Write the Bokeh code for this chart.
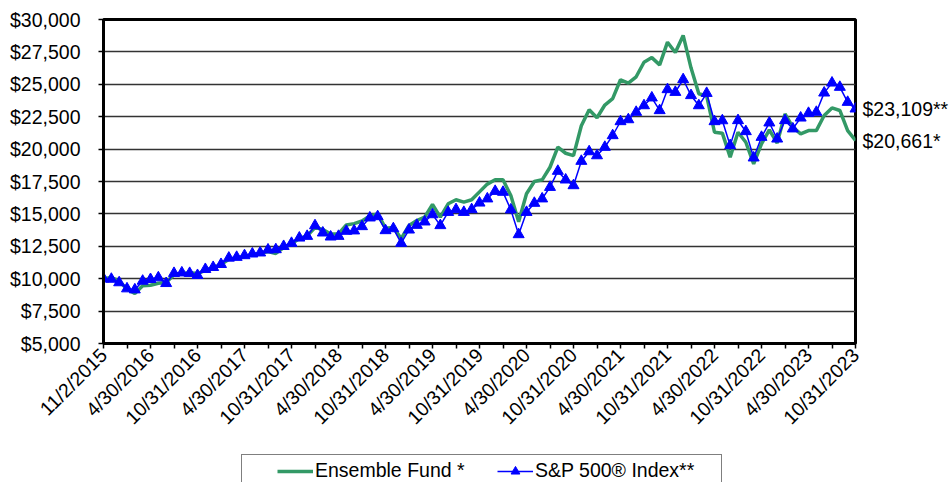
from math import pi
from bokeh.plotting import figure
from bokeh.layouts import column
from bokeh.models import (Range1d, FixedTicker, NumeralTickFormatter, Legend,
                          LegendItem, LinearAxis)
from bokeh.embed import file_html
from bokeh.resources import INLINE

# ---- data (monthly, index 0 = 11/2/2015 ... 96 = 10/31/2023) ----
tick_positions = list(range(0, 97, 6))
tick_labels = ["11/2/2015", "4/30/2016", "10/31/2016", "4/30/2017", "10/31/2017",
               "4/30/2018", "10/31/2018", "4/30/2019", "10/31/2019", "4/30/2020",
               "10/31/2020", "4/30/2021", "10/31/2021", "4/30/2022", "10/31/2022",
               "4/30/2023", "10/31/2023"]

ensemble_fund = [10000, 10100, 9800, 9200, 8850, 9450, 9500, 9650, 9700, 10300,
                 10400, 10450, 10400, 10650, 10850, 11100, 11500, 11600, 11700, 11850,
                 11950, 12100, 11950, 12400, 12700, 13100, 13300, 13950, 13800, 13450,
                 13450, 14150, 14250, 14450, 14850, 15000, 13900, 13950, 13100, 14110,
                 14490, 14750, 15730, 14750, 15780, 16090, 15910, 16090, 16700, 17300,
                 17630, 17630, 16420, 14400, 16550, 17500, 17630, 18600, 20150, 19680,
                 19500, 21800, 23030, 22420, 23400, 23900, 25350, 25090, 25580, 26700,
                 27060, 26500, 28250, 27450, 28770, 26270, 24270, 24100, 21300, 21230,
                 19380, 21300, 20530, 18860, 20400, 21490, 20460, 22720, 21690, 21180,
                 21430, 21430, 22590, 23180, 22980, 21430, 20661]

sp500_index = [10000, 9970, 9700, 9230, 9150, 9820, 9950, 10080, 9640, 10420,
               10460, 10420, 10260, 10725, 10880, 11110, 11600, 11660, 11790, 11920,
               12000, 12230, 12250, 12500, 12740, 13150, 13280, 14100, 13540, 13230,
               13280, 13670, 13700, 14030, 14700, 14800, 13720, 13870, 12740, 13770,
               14130, 14390, 14950, 14110, 15130, 15340, 15130, 15340, 15850, 16170,
               16750, 16680, 15320, 13410, 15130, 15830, 16170, 17060, 18300, 17630,
               17190, 19070, 19810, 19500, 20150, 21050, 22130, 22280, 22850, 23360,
               23960, 22980, 24600, 24390, 25370, 24140, 23360, 24310, 22130, 22200,
               20280, 22210, 21360, 19330, 20920, 22030, 20790, 22210, 21570, 22410,
               22770, 22850, 24340, 25110, 24780, 23620, 23109]

months = list(range(len(sp500_index)))

end_labels = ["$23,109**", "$20,661*"]
series_names = ["Ensemble Fund *", "S&P 500® Index**"]

FONT = "Liberation Sans"
FS = "19.5px"
GREEN = "#339966"
BLUE = "#0000FF"

p = figure(frame_width=752, frame_height=324,
           x_range=Range1d(0, 96), y_range=Range1d(5000, 30000),
           output_backend="svg", toolbar_location=None,
           min_border_left=103, min_border_right=97,
           min_border_top=19, min_border_bottom=97)

p.background_fill_color = "white"
p.border_fill_color = "white"
p.outline_line_color = "black"
p.outline_line_width = 3

# grid
p.xgrid.grid_line_color = None
p.ygrid.grid_line_color = "#333333"
p.ygrid.grid_line_width = 1.3

# y axis
p.yaxis.ticker = FixedTicker(ticks=list(range(5000, 30001, 2500)))
p.yaxis.formatter = NumeralTickFormatter(format="$0,0")
p.yaxis.major_tick_out = 5
p.yaxis.major_tick_in = 0
p.yaxis.minor_tick_line_color = None
p.yaxis.major_label_standoff = 18
p.yaxis.axis_line_color = "black"
p.yaxis.axis_line_width = 3

# x axis
p.xaxis.ticker = FixedTicker(ticks=tick_positions, minor_ticks=list(range(3, 96, 6)))
p.xaxis.major_label_overrides = {pos: lab for pos, lab in zip(tick_positions, tick_labels)}
p.xaxis.major_label_orientation = pi / 4
p.xaxis.major_tick_out = 5
p.xaxis.major_tick_in = 0
p.xaxis.minor_tick_out = 5
p.xaxis.minor_tick_in = 0
p.xaxis.major_label_standoff = 3
p.xaxis.axis_line_color = "black"
p.xaxis.axis_line_width = 3

for ax in (p.xaxis, p.yaxis):
    ax.major_label_text_font = FONT
    ax.major_label_text_font_size = FS
    ax.major_label_text_color = "black"
    ax.major_tick_line_color = "black"
    ax.major_tick_line_width = 1.5
    ax.minor_tick_line_width = 1.5
p.xaxis.minor_tick_line_color = "black"

# end-value labels as a right axis
end_values = [sp500_index[-1], ensemble_fund[-1]]
right_axis = LinearAxis(ticker=FixedTicker(ticks=end_values),
                        major_label_overrides={v: t for v, t in zip(end_values, end_labels)},
                        axis_line_color=None, major_tick_line_color=None,
                        minor_tick_line_color=None, major_tick_out=0, major_tick_in=0,
                        major_label_standoff=7, major_label_text_font=FONT,
                        major_label_text_font_size=FS, major_label_text_color="black")
p.add_layout(right_axis, "right")

# series
p.line(months, ensemble_fund, line_color=GREEN, line_width=3.5)
p.line(months, sp500_index, line_color=BLUE, line_width=1.5)
p.scatter(months, sp500_index, marker="triangle", size=11,
          fill_color=BLUE, line_color=BLUE)

# ---- legend strip (separate figure below the chart) ----
# the series are drawn again here only to provide legend swatches; they fall
# outside this strip's visible range.
q = figure(width=952, height=42, x_range=Range1d(0, 1), y_range=Range1d(0, 1),
           output_backend="svg", toolbar_location=None,
           min_border=0, x_axis_type=None, y_axis_type=None)
q.outline_line_color = None
q.grid.grid_line_color = None
q.background_fill_color = "white"
q.border_fill_color = "white"
lg = q.line(months, ensemble_fund, line_color=GREEN, line_width=3.5)
ll = q.line(months, sp500_index, line_color=BLUE, line_width=1.5)
ls = q.scatter(months, sp500_index, marker="triangle", size=11,
               fill_color=BLUE, line_color=BLUE)

legend = Legend(items=[LegendItem(label=series_names[0], renderers=[lg]),
                       LegendItem(label=series_names[1], renderers=[ll, ls])],
                orientation="horizontal", location=(138, -5),
                title=" ", title_location="left", title_standoff=8,
                title_text_font=FONT, title_text_font_size=FS,
                padding=4, spacing=0, glyph_width=36, glyph_height=22,
                label_height=22, label_width=182,
                label_standoff=2, label_text_font=FONT, label_text_font_size=FS,
                label_text_color="black",
                border_line_color="black", border_line_width=1.5, margin=0)
q.add_layout(legend, "center")

layout = column(p, q, spacing=0)
open("out.html", "w").write(file_html(layout, INLINE))
